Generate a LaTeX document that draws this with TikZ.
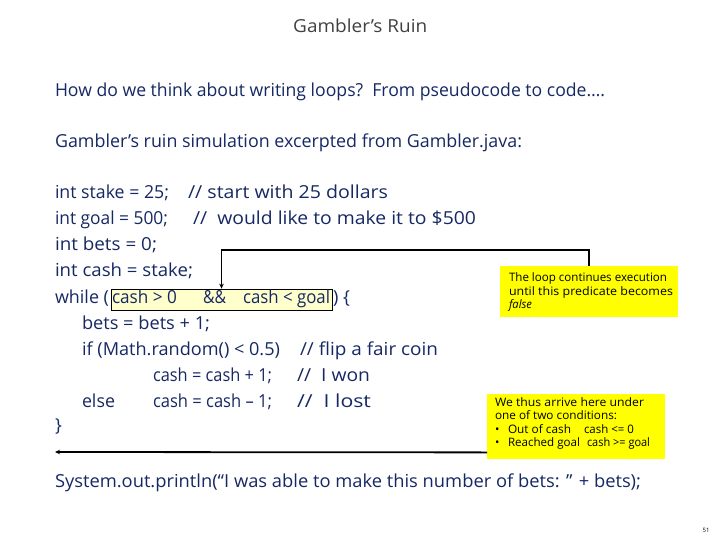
\documentclass[tikz,border=0pt]{standalone}
\usepackage{fontspec}
\usepackage{graphicx}
\setmainfont{Open Sans}
\usetikzlibrary{arrows.meta,calc}
\definecolor{navy}{RGB}{22,40,100}
\definecolor{ttl}{RGB}{64,64,64}
\definecolor{hly}{RGB}{255,255,204}
\definecolor{yel}{RGB}{255,255,0}
\newcommand\fw[2]{\resizebox{#1bp}{\height}{#2}}
\begin{document}
\begin{tikzpicture}[x=1bp,y=-1bp,
  txt/.style={anchor=base west,inner sep=0pt,outer sep=0pt,text=navy,font=\fontsize{18}{20}\selectfont},
  small/.style={anchor=base west,inner sep=0pt,outer sep=0pt,text=black,font=\fontsize{11.7}{13}\selectfont},
  note/.style={fill=yel,draw=none,inner sep=0pt,anchor=north west},
  conn/.style={draw=black,line width=1.8pt,-{Stealth[length=5pt,width=4.5pt]}}]
\useasboundingbox (0,0) rectangle (720,540);
% title and headings
\node[anchor=base west,inner sep=0pt,text=ttl,font=\fontsize{18}{20}\selectfont] (title) at (293,33) {\fw{134}{Gambler’s Ruin}};
\node[txt] (h1) at (55,97) {\fw{550}{How do we think about writing loops?\ \ From pseudocode to code….}};
\node[txt] (h2) at (55,148) {\fw{467}{Gambler’s ruin simulation excerpted from Gambler.java:}};
% highlight box
\node[draw=black,line width=0.7pt,fill=hly,minimum width=221bp,minimum height=21bp,inner sep=0pt] (hl) at (221.5,299.5) {};
% code
\node[txt] (l1a) at (55,199) {\fw{114}{int stake = 25;}};
\node[txt] (l1b) at (188,199) {\fw{200}{// start with 25 dollars}};
\node[txt] (l2a) at (55,225) {\fw{113}{int goal = 500;}};
\node[txt] (l2b) at (193,225) {\fw{283}{//\ \ would like to make it to \$500}};
\node[txt] (l3) at (55,251) {\fw{102}{int bets = 0;}};
\node[txt] (l4) at (55,277) {\fw{138}{int cash = stake;}};
\node[txt] (l5a) at (55,303) {\fw{54}{while (}};
\node[txt] (l5b) at (112,303) {\fw{65}{cash > 0}};
\node[txt] (l5c) at (203,303) {\fw{23}{\&\&}};
\node[txt] (l5d) at (243,303) {\fw{87}{cash < goal}};
\node[txt] (l5e) at (333,303) {\fw{17}{) \{}};
\node[txt] (l6) at (82,329) {\fw{128}{bets = bets + 1;}};
\node[txt] (l7a) at (82,355) {\fw{198}{if (Math.random() < 0.5)}};
\node[txt] (l7b) at (300,355) {\fw{138}{// flip a fair coin}};
\node[txt] (l8a) at (153,381) {\fw{119}{cash = cash + 1;}};
\node[txt] (l8b) at (297,381) {\fw{73}{//\ \ I won}};
\node[txt] (l9a) at (82,407) {\fw{33}{else}};
\node[txt] (l9b) at (153,407) {\fw{119}{cash = cash – 1;}};
\node[txt] (l9c) at (297,407) {\fw{74}{//\ \ I lost}};
\node[txt] (l10) at (55,431) {\}};
\node[txt] (sys) at (55,487) {\fw{586}{System.out.println(“I was able to make this number of bets: ” + bets);}};
% note boxes
\node[note,minimum width=178bp,minimum height=51bp] (box1) at (500,266) {};
\node[small] (b1a) at (509,282) {\fw{158}{The loop continues execution}};
\node[small] (b1b) at (509,295.5) {\fw{164}{until this predicate becomes}};
\node[small] (b1c) at (509,309) {\fw{23}{\itshape false}};
\node[note,minimum width=178bp,minimum height=65bp] (box2) at (487,394) {};
\node[small] (b2a) at (495,406) {\fw{149}{We thus arrive here under}};
\node[small] (b2b) at (495,419.5) {\fw{122}{one of two conditions:}};
\node[small] (b2c) at (495,433) {•};
\node[small] (b2d) at (508,433) {\fw{63}{Out of cash}};
\node[small] (b2e) at (584,433) {\fw{50}{cash <= 0}};
\node[small] (b2f) at (495,446.5) {•};
\node[small] (b2g) at (508,446.5) {\fw{72}{Reached goal}};
\node[small] (b2h) at (587,446.5) {\fw{63}{cash >= goal}};
% connectors
\draw[conn] (box1.north) -- ++(0,-16) -| (hl.north);
\coordinate (lend) at (55,452);
\draw[conn] (box2.south west) ++(0,-7) -- (lend);
% page number
\node[anchor=base,inner sep=0pt,font=\fontsize{6}{7}\selectfont] (pg) at (706,532) {51};
\end{tikzpicture}
\end{document}
